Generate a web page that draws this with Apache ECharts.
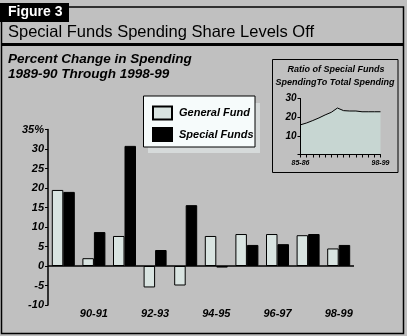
<!DOCTYPE html>
<html>
<head>
<meta charset="utf-8">
<script src="https://cdn.jsdelivr.net/npm/echarts@6/dist/echarts.min.js"></script>
<style>
  html, body { margin: 0; padding: 0; background: #c0c0c0; }
  #chart { width: 407px; height: 336px; }
</style>
</head>
<body>
<div id="chart"></div>
<script>
// Fiscal years for the main bar chart
const years = ['89-90', '90-91', '91-92', '92-93', '93-94', '94-95', '95-96', '96-97', '97-98', '98-99'];
// Percent change in spending by fund
const generalFund = [19.5, 2.0, 7.7, -5.5, -5.0, 7.7, 8.2, 8.2, 7.9, 4.5];
const specialFunds = [19.0, 8.7, 30.8, 4.1, 15.6, -0.4, 5.4, 5.6, 8.2, 5.4];
// Labelled years on the main axis
const shownYears = ['90-91', '92-93', '94-95', '96-97', '98-99'];

// Inset: special funds spending as share of total spending
const ratioYears = ['85-86', '86-87', '87-88', '88-89', '89-90', '90-91', '91-92',
                    '92-93', '93-94', '94-95', '95-96', '96-97', '97-98', '98-99'];
const ratioValues = [15.9, 16.9, 18.2, 19.6, 21.2, 22.6, 24.9, 23.5, 23.3, 23.3, 22.9, 22.9, 22.9, 22.9];
const ratioShown = ['85-86', '98-99'];

const FONT = '"Liberation Sans", Arial, sans-serif';
const tickText = { fontFamily: FONT, fontWeight: 'bold', fontStyle: 'italic', color: '#000' };

const chart = echarts.init(document.getElementById('chart'), null, { renderer: 'canvas' });

chart.setOption({
  backgroundColor: '#c0c0c0',
  animation: false,
  textStyle: { fontFamily: FONT },
  graphic: [
    // outer frame
    { type: 'rect', shape: { x: 1.5, y: 7, width: 402, height: 326.5 },
      style: { fill: 'none', stroke: '#000', lineWidth: 1.5 }, z: -1 },
    // figure tag
    { type: 'rect', shape: { x: 0, y: 3, width: 69, height: 19 },
      style: { fill: '#000' }, z: 1 },
    { type: 'text', x: 8, y: 12.5, z: 2,
      style: { text: 'Figure 3', fill: '#fff', font: 'bold 14px ' + FONT, verticalAlign: 'middle' } },
    // title
    { type: 'text', x: 8, y: 32, z: 2,
      style: { text: 'Special Funds Spending Share Levels Off', fill: '#000',
               font: '16.5px ' + FONT, verticalAlign: 'middle' } },
    { type: 'rect', shape: { x: 1.5, y: 43, width: 402, height: 3 },
      style: { fill: '#000' }, z: 1 },
    // subtitle
    { type: 'text', x: 8, y: 59, z: 2,
      style: { text: 'Percent Change in Spending', fill: '#000',
               font: 'italic bold 13.5px ' + FONT, verticalAlign: 'middle' } },
    { type: 'text', x: 8, y: 74, z: 2,
      style: { text: '1989-90 Through 1998-99', fill: '#000',
               font: 'italic bold 13.5px ' + FONT, verticalAlign: 'middle' } },
    // legend box with shadow
    { type: 'rect', shape: { x: 148, y: 103, width: 112, height: 50 },
      style: { fill: '#d6dada' }, z: 1 },
    { type: 'rect', shape: { x: 143.5, y: 96, width: 111.5, height: 51 },
      style: { fill: '#f6fbfb', stroke: '#000', lineWidth: 1 }, z: 2 },
    // inset box
    { type: 'rect', shape: { x: 272.5, y: 59.5, width: 125.5, height: 113 },
      style: { fill: '#c0c0c0', stroke: '#000', lineWidth: 1 }, z: -1 },
    { type: 'text', x: 336, y: 70, z: 2,
      style: { text: 'Ratio of Special Funds', fill: '#000', align: 'center',
               font: 'italic bold 9px ' + FONT, verticalAlign: 'middle' } },
    { type: 'text', x: 335, y: 83, z: 2,
      style: { text: 'SpendingTo Total Spending', fill: '#000', align: 'center',
               font: 'italic bold 9px ' + FONT, verticalAlign: 'middle' } }
  ],
  legend: {
    left: 152, top: 105.5, orient: 'vertical', padding: 0, icon: 'rect',
    itemWidth: 19, itemHeight: 13, itemGap: 6.5, z: 5,
    textStyle: { fontFamily: FONT, fontWeight: 'bold', fontStyle: 'italic', fontSize: 11, color: '#000', padding: [0, 0, 0, 2] },
    data: ['General Fund', 'Special Funds']
  },
  grid: [
    { left: 48, right: 53, top: 129.5, bottom: 31 },
    { left: 300.5, right: 26.5, top: 98.5, bottom: 181.5 }
  ],
  xAxis: [
    {
      gridIndex: 0, type: 'category', data: years,
      axisLine: { show: false, onZero: false },
      axisTick: { show: false },
      axisLabel: {
        ...tickText, fontSize: 11, margin: 3, interval: 0,
        formatter: v => shownYears.includes(v) ? v : ''
      }
    },
    {
      gridIndex: 1, type: 'category', data: ratioYears, boundaryGap: false, z: 4,
      axisLine: { lineStyle: { color: '#000', width: 1 } },
      axisTick: { show: true, length: 3, interval: 0, lineStyle: { color: '#000' } },
      axisLabel: {
        ...tickText, fontSize: 7, margin: 5, interval: 0,
        formatter: v => ratioShown.includes(v) ? v : ''
      }
    }
  ],
  yAxis: [
    {
      gridIndex: 0, type: 'value', min: -10, max: 35, interval: 5,
      splitLine: { show: false },
      axisLine: { show: true, lineStyle: { color: '#000', width: 1.5 } },
      axisTick: { show: true, length: 3, lineStyle: { color: '#000' } },
      axisLabel: {
        ...tickText, fontSize: 11, margin: 4,
        formatter: v => v === 35 ? '35%' : String(v)
      }
    },
    {
      gridIndex: 1, type: 'value', min: 0, max: 30, interval: 10, z: 4,
      splitLine: { show: false },
      axisLine: { show: true, lineStyle: { color: '#000', width: 1 } },
      axisTick: { show: true, length: 3, lineStyle: { color: '#000' } },
      axisLabel: {
        ...tickText, fontSize: 10, margin: 4,
        formatter: v => v === 0 ? '' : String(v)
      }
    }
  ],
  series: [
    {
      name: 'General Fund', type: 'bar', xAxisIndex: 0, yAxisIndex: 0,
      data: generalFund, barWidth: 11.5, barGap: '0%',
      itemStyle: { color: '#d9e4e1', borderColor: '#000', borderWidth: 1 },
      markLine: {
        silent: true, symbol: 'none', label: { show: false },
        lineStyle: { color: '#000', width: 1.5, type: 'solid' },
        data: [{ yAxis: 0 }]
      },
      z: 3
    },
    {
      name: 'Special Funds', type: 'bar', xAxisIndex: 0, yAxisIndex: 0,
      data: specialFunds, barWidth: 11.5, barGap: '0%',
      itemStyle: { color: '#000', borderColor: '#000', borderWidth: 1 },
      z: 3
    },
    {
      name: 'Ratio', type: 'line', xAxisIndex: 1, yAxisIndex: 1,
      data: ratioValues, symbol: 'none',
      lineStyle: { color: '#000', width: 1 },
      areaStyle: { color: '#c7d6d2', opacity: 1 },
      z: 3
    }
  ]
});
</script>
</body>
</html>
